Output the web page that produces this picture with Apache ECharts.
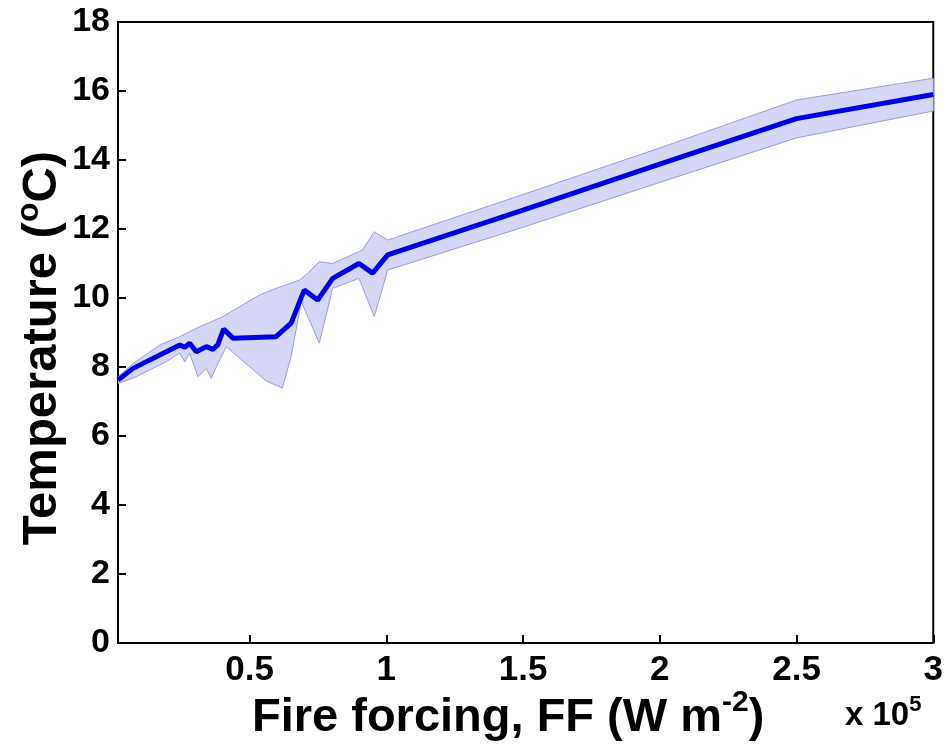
<!DOCTYPE html>
<html>
<head>
<meta charset="utf-8">
<script src="https://cdn.jsdelivr.net/npm/echarts@6/dist/echarts.min.js"></script>
<style>html,body{margin:0;padding:0;background:#fff}#c{width:946px;height:755px}</style>
</head>
<body>
<div id="c"></div>
<script>
// x values in units of 1e5 W m^-2
const lineX = [0.019, 0.074, 0.245, 0.263, 0.281, 0.305, 0.342, 0.366, 0.384, 0.405, 0.44, 0.597, 0.652, 0.70, 0.749, 0.804, 0.90, 0.95, 1.005, 1.5, 2.0, 2.5, 3.0];
const lineT = [7.62, 7.96, 8.64, 8.57, 8.69, 8.44, 8.59, 8.51, 8.64, 9.10, 8.83, 8.88, 9.27, 10.23, 9.94, 10.57, 11.0, 10.72, 11.25, 12.55, 13.88, 15.2, 15.9];

const upperX = [0.019, 0.074, 0.172, 0.245, 0.305, 0.402, 0.537, 0.597, 0.683, 0.713, 0.755, 0.804, 0.913, 0.956, 1.005, 1.5, 2.0, 2.5, 3.0];
const upperT = [7.72, 8.1, 8.64, 8.88, 9.12, 9.46, 10.09, 10.28, 10.52, 10.72, 11.05, 11.0, 11.39, 11.92, 11.68, 13.0, 14.35, 15.74, 16.37];

const lowerX = [0.019, 0.086, 0.195, 0.245, 0.263, 0.281, 0.311, 0.342, 0.360, 0.384, 0.415, 0.56, 0.62, 0.652, 0.689, 0.755, 0.804, 0.90, 0.956, 1.005, 1.5, 2.0, 2.5, 3.0];
const lowerT = [7.52, 7.72, 8.15, 8.4, 8.15, 8.4, 7.72, 7.96, 7.67, 8.1, 8.59, 7.6, 7.39, 8.3, 9.9, 8.69, 10.28, 10.57, 9.46, 10.81, 12.05, 13.35, 14.64, 15.42];

const xTicks = [0.5, 1, 1.5, 2, 2.5, 3];
const yTicks = [0, 2, 4, 6, 8, 10, 12, 14, 16, 18];

const FONT = '"Liberation Sans", Arial, Helvetica, sans-serif';
const chart = echarts.init(document.getElementById('c'), null, {renderer: 'canvas'});

const linePts = lineX.map((x, i) => [x, lineT[i]]);

chart.setOption({
  animation: false,
  backgroundColor: '#ffffff',
  grid: {left: 118, right: 12, top: 22, bottom: 112, show: true, borderColor: '#000', borderWidth: 2, backgroundColor: 'transparent'},
  xAxis: {
    type: 'value', min: 0.019, max: 3,
    axisLine: {show: true, onZero: false, lineStyle: {color: '#000', width: 2}},
    axisTick: {show: true, inside: true, length: 8, lineStyle: {color: '#000', width: 2}, customValues: xTicks},
    axisLabel: {customValues: xTicks, fontFamily: FONT, fontWeight: 'bold', fontSize: 35, color: '#000', margin: 10,
      formatter: v => String(v)},
    splitLine: {show: false}
  },
  yAxis: {
    type: 'value', min: 0, max: 18, interval: 2,
    axisLine: {show: true, onZero: false, lineStyle: {color: '#000', width: 2}},
    axisTick: {show: true, inside: true, length: 8, lineStyle: {color: '#000', width: 2}},
    axisLabel: {fontFamily: FONT, fontWeight: 'bold', fontSize: 34, color: '#000', margin: 8,
      formatter: v => (yTicks.indexOf(v) >= 0 ? String(v) : '')},
    splitLine: {show: false}
  },
  graphic: [
    {
      type: 'text', x: 40, y: 348, rotation: Math.PI / 2,
      style: {
        text: '{a|Temperature (}{s|o}{a|C)}',
        textAlign: 'center', textVerticalAlign: 'middle',
        rich: {
          a: {fontFamily: FONT, fontWeight: 'bold', fontSize: 49, fill: '#000', lineHeight: 54, verticalAlign: 'bottom'},
          s: {fontFamily: FONT, fontWeight: 'bold', fontSize: 32, fill: '#000', lineHeight: 32, verticalAlign: 'top'}
        }
      }
    },
    {
      type: 'text', left: 252, top: 688,
      style: {
        text: '{a|Fire forcing, FF (W m}{s|-2}{a|)}',
        rich: {
          a: {fontFamily: FONT, fontWeight: 'bold', fontSize: 47, fill: '#000', lineHeight: 54, verticalAlign: 'bottom'},
          s: {fontFamily: FONT, fontWeight: 'bold', fontSize: 30, fill: '#000', lineHeight: 30, verticalAlign: 'top'}
        }
      }
    },
    {
      type: 'text', left: 845, top: 694,
      style: {
        text: '{a|x 10}{s|5}',
        rich: {
          a: {fontFamily: FONT, fontWeight: 'bold', fontSize: 33, fill: '#000', lineHeight: 38, verticalAlign: 'bottom'},
          s: {fontFamily: FONT, fontWeight: 'bold', fontSize: 22, fill: '#000', lineHeight: 22, verticalAlign: 'top'}
        }
      }
    }
  ],
  series: [
    {
      type: 'custom',
      clip: true,
      silent: true,
      data: [[0.019, 0]],
      renderItem: function (params, api) {
        const pts = [];
        for (let i = 0; i < upperX.length; i++) pts.push(api.coord([upperX[i], upperT[i]]));
        for (let i = lowerX.length - 1; i >= 0; i--) pts.push(api.coord([lowerX[i], lowerT[i]]));
        return {
          type: 'polygon',
          shape: {points: pts},
          style: {fill: '#d6d6f7', stroke: '#9c9cd8', lineWidth: 1}
        };
      },
      z: 1
    },
    {
      type: 'line',
      data: linePts,
      symbol: 'none',
      lineStyle: {color: '#0000e0', width: 5},
      z: 3
    }
  ]
});
</script>
</body>
</html>
